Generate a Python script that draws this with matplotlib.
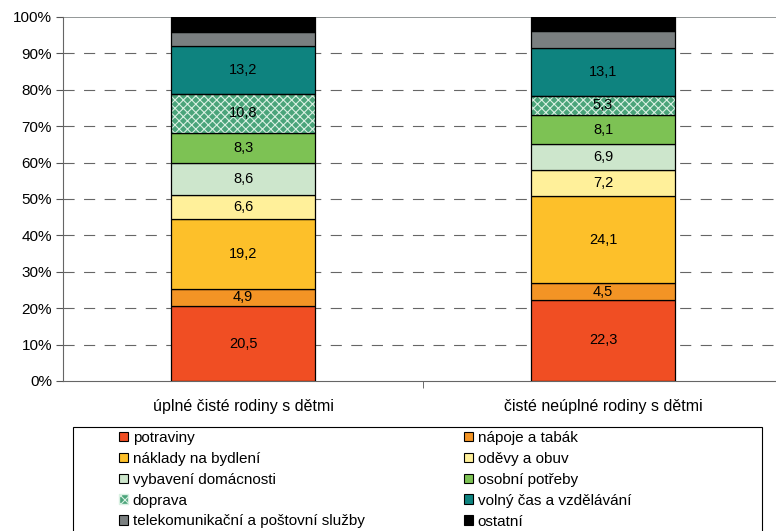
import numpy as np
import matplotlib.pyplot as plt
from matplotlib.patches import Patch, Rectangle

plt.rcParams['font.family'] = ['Liberation Sans', 'DejaVu Sans']
plt.rcParams['hatch.linewidth'] = 0.8

# data (shares of expenditure, %)
groups = ['úplné čisté rodiny s dětmi', 'čisté neúplné rodiny s dětmi']
items = ['potraviny', 'nápoje a tabák', 'náklady na bydlení', 'oděvy a obuv',
         'vybavení domácnosti', 'osobní potřeby', 'doprava', 'volný čas a vzdělávání',
         'telekomunikační a poštovní služby', 'ostatní']
full_families = [20.5, 4.9, 19.2, 6.6, 8.6, 8.3, 10.8, 13.2, 3.7, 4.2]
single_parent = [22.3, 4.5, 24.1, 7.2, 6.9, 8.1, 5.3, 13.1, 4.7, 3.8]
shown = [True, True, True, True, True, True, True, True, False, False]

colors = ['#f04e23', '#f39425', '#fdc02a', '#fff09a', '#cde6cc',
          '#7dc254', '#4aa47a', '#0e837f', '#7a7f80', '#000000']

data = np.array([full_families, single_parent])
data = data / data.sum(axis=1, keepdims=True) * 100

fig = plt.figure(figsize=(7.76, 5.31), dpi=100)
ax = fig.add_axes([63 / 776, 150 / 531, 720 / 776, 364 / 531])

x = np.arange(len(groups))
width = 0.4
bottom = np.zeros(len(groups))
for i, name in enumerate(items):
    vals = data[:, i]
    if name == 'doprava':
        ax.bar(x, vals, width, bottom=bottom, color=colors[i], edgecolor='#d9f0e2',
               hatch='xxxx', linewidth=0, zorder=3)
        ax.bar(x, vals, width, bottom=bottom, fill=False, edgecolor='black',
               linewidth=0.9, zorder=4)
    else:
        ax.bar(x, vals, width, bottom=bottom, color=colors[i], edgecolor='black',
               linewidth=0.9, zorder=3)
    if shown[i]:
        raw = [full_families[i], single_parent[i]]
        for k in range(len(groups)):
            ax.text(x[k], bottom[k] + vals[k] / 2, f'{raw[k]:.1f}'.replace('.', ','),
                    ha='center', va='center', fontsize=10.5, zorder=5)
    bottom += vals

ax.set_xlim(-0.5, 1.5)
ax.set_ylim(0, 100)
ax.set_yticks(np.arange(0, 101, 10))
ax.set_yticklabels([f'{v}%' for v in range(0, 101, 10)], fontsize=11)
for v in range(10, 100, 10):
    ax.axhline(v, color='#666666', linewidth=0.8, linestyle=(0, (10, 8.5)), zorder=1)
ax.axhline(100, color='#8a8f8f', linewidth=1.3, zorder=1)

ax.set_xticks(x)
ax.set_xticklabels(groups, fontsize=11.5)
ax.set_xticks([0.5], minor=True)
ax.tick_params(axis='x', which='major', length=0, pad=13)
ax.tick_params(axis='x', which='minor', length=5, direction='out', color='#555555')
ax.tick_params(axis='y', length=5, direction='out', color='#555555', pad=3)

for side in ['top', 'right']:
    ax.spines[side].set_visible(False)
ax.spines['left'].set_color('#666666')
ax.spines['bottom'].set_color('#666666')

# legend box
fig.patches.append(Rectangle((73 / 776, -0.05), 689 / 776, (531 - 427) / 531 + 0.05,
                             transform=fig.transFigure, fill=False,
                             edgecolor='black', linewidth=0.8))

handles = []
for i, name in enumerate(items):
    if name == 'doprava':
        handles.append(Patch(facecolor=colors[i], edgecolor='#d9f0e2', hatch='xxxx'))
    else:
        handles.append(Patch(facecolor=colors[i], edgecolor='black', linewidth=0.8))

leg_kw = dict(frameon=False, fontsize=11, handlelength=0.6, handleheight=0.6,
              handletextpad=0.3, labelspacing=0.45, borderpad=0, borderaxespad=0)
fig.legend(handles[0::2], items[0::2], loc='upper left',
           bbox_to_anchor=(119 / 776, 1 - 431 / 531), **leg_kw)
fig.legend(handles[1::2], items[1::2], loc='upper left',
           bbox_to_anchor=(464 / 776, 1 - 431 / 531), **leg_kw)

plt.savefig('out.png', dpi=100)
